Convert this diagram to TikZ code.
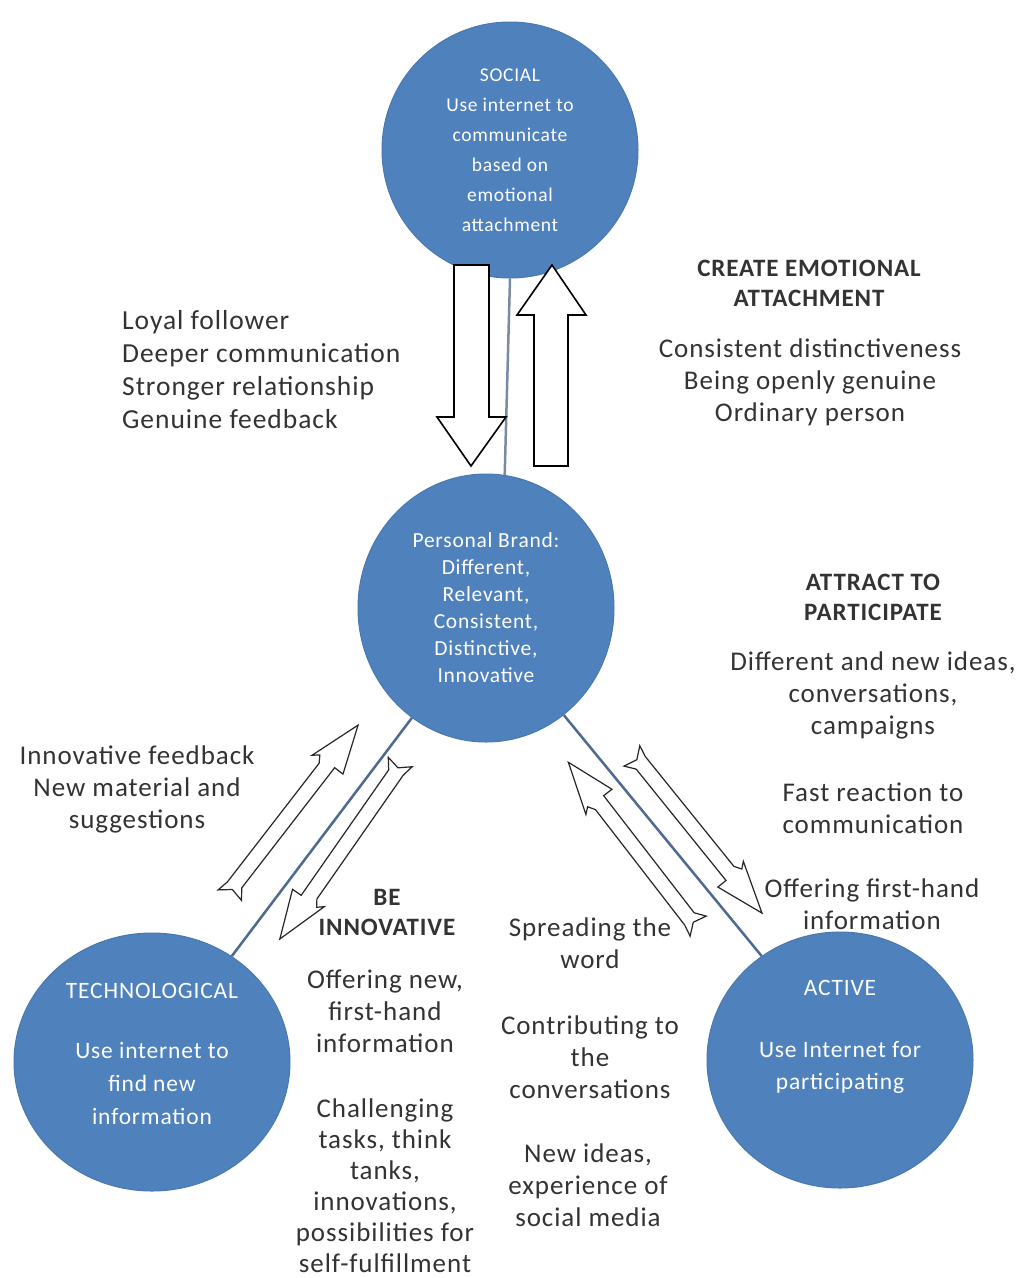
\documentclass[tikz,border=0pt]{standalone}
\usepackage{fontspec}
\setmainfont{Carlito}[LetterSpace=3.5]
\usetikzlibrary{shapes.geometric,calc}
\definecolor{circblue}{HTML}{4F81BD}
\definecolor{circedge}{HTML}{4A78B0}
\definecolor{txt}{HTML}{333333}
\definecolor{linkc}{HTML}{4E6A92}
\definecolor{linkv}{HTML}{7A8AA3}
\begin{document}
\begin{tikzpicture}[x=1pt,y=-1pt,
  circ/.style={ellipse, fill=circblue, draw=circedge, line width=1pt, text=white, align=center, inner sep=0pt},
  lbl/.style={text=txt, align=center, inner sep=0pt, font=\fontsize{27}{32}\selectfont},
  head/.style={lbl, font=\bfseries\fontsize{25}{30}\selectfont},
  link/.style={draw=linkc, line width=2.5pt},
  block/.style={draw=black, fill=white, line width=1.6pt, line join=miter},
  boltline/.style={draw=black!85, fill=white, line width=1.2pt, line join=miter},
  bolt/.pic={
    \path[boltline] (#1,0) -- (#1-48,18) -- (#1-48,7.5) -- (16,7.5) -- (6,15) -- (9,1)
      -- (0,-10) -- (12,-7.5) -- (#1-54,-7.5) -- (#1-47,-12) -- (#1-52,-18) -- cycle;
  }]
\useasboundingbox (0,0) rectangle (1021,1278);
\fill[white] (0,0) rectangle (1021,1278);

% circles
\node[circ, minimum width=256pt, minimum height=256pt, font=\fontsize{19.5}{30}\selectfont] (social) at (510,150)
  {SOCIAL\\Use internet to\\communicate\\based on\\emotional\\attachment};
\node[circ, minimum width=256pt, minimum height=268pt, font=\fontsize{21.5}{27}\selectfont] (brand) at (486,608)
  {Personal Brand:\\Different,\\Relevant,\\Consistent,\\Distinctive,\\Innovative};
\node[circ, minimum width=276pt, minimum height=258pt, font=\fontsize{23.5}{33}\selectfont] (tech) at (152,1062)
  {TECHNOLOGICAL\\[27pt]Use internet to\\find new\\information\\[-26pt]\strut};
\node[circ, minimum width=266pt, minimum height=256pt, font=\fontsize{23.5}{32}\selectfont] (active) at (840,1060)
  {ACTIVE\\[30pt]Use Internet for\\participating\\[8pt]\strut};

% links between circles
\draw[draw=linkv, line width=2.5pt] (social.270) -- (brand.82);
\draw[link] (brand.236) -- (tech.53);
\draw[link] (brand.306) -- (active.127);

% big block arrows between SOCIAL and Personal Brand
\path[block] (454,265) -- (489,265) -- (489,417) -- (506,417) -- (471,466) -- (437,417) -- (454,417) -- cycle;
\path[block] (552,265) -- (586,315) -- (568,315) -- (568,466) -- (534,466) -- (534,315) -- (517,315) -- cycle;

% lightning arrows
\coordinate (t1) at (226,896);
\coordinate (t2) at (404,761);
\coordinate (t3) at (698,930);
\coordinate (t4) at (632,752);
\pic[rotate=52.3] at (t1) {bolt=216};
\pic[rotate=235.1] at (t2) {bolt=217};
\pic[rotate=127.7] at (t3) {bolt=212};
\pic[rotate=-51.1] at (t4) {bolt=207};

% texts
\node[lbl, align=left, anchor=west, font=\fontsize{27.5}{33}\selectfont] (loyal) at (122,370)
  {Loyal follower\\Deeper communication\\Stronger relationship\\Genuine feedback};
\node[head] (hcreate) at (809,283) {CREATE EMOTIONAL\\ATTACHMENT};
\node[lbl] (create) at (810,382) {Consistent distinctiveness\\Being openly genuine\\Ordinary person};
\node[head] (hattract) at (873,597) {ATTRACT TO\\PARTICIPATE};
\node[lbl] (diff) at (873,695) {Different and new ideas,\\conversations,\\campaigns};
\node[lbl] (fast) at (873,808) {Fast reaction to\\communication};
\node[lbl] (offer) at (872,904) {Offering first-hand\\information};
\node[lbl] (innofb) at (137,789) {Innovative feedback\\New material and\\suggestions};
\node[head] (hinno) at (387,912) {BE\\INNOVATIVE};
\node[lbl] (offnew) at (385,1011) {Offering new,\\first-hand\\information};
\node[lbl, font=\fontsize{27}{31}\selectfont] (chall) at (385,1186)
  {Challenging\\tasks, think\\tanks,\\innovations,\\possibilities for\\self-fulfillment};
\node[lbl] (spread) at (590,943) {Spreading the\\word};
\node[lbl] (contrib) at (590,1057) {Contributing to\\the\\conversations};
\node[lbl] (newid) at (588,1185) {New ideas,\\experience of\\social media};
\end{tikzpicture}
\end{document}
